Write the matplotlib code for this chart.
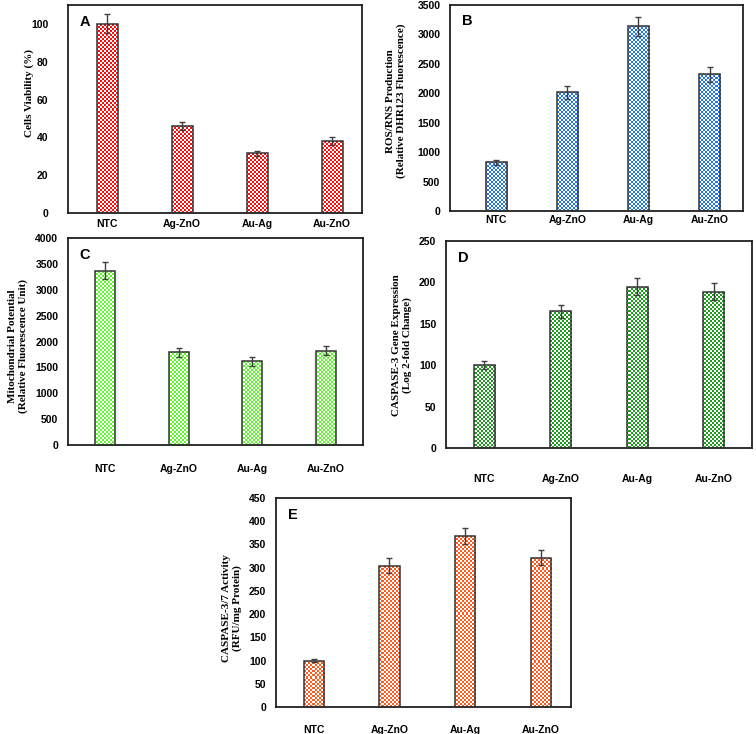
import numpy as np
import matplotlib
matplotlib.use("Agg")
import matplotlib.pyplot as plt
from matplotlib.colors import to_rgb

categories = ["NTC", "Ag-ZnO", "Au-Ag", "Au-ZnO"]

vals_A = [100, 46, 31.5, 38]
err_A = [5, 2, 1.5, 2]
vals_B = [830, 2020, 3140, 2320]
err_B = [40, 110, 160, 120]
vals_C = [3370, 1790, 1620, 1820]
err_C = [170, 90, 90, 90]
vals_D = [100, 165, 195, 189]
err_D = [5, 8, 10, 10]
vals_E = [100, 304, 368, 321]
err_E = [4, 16, 18, 16]

W, H = 756, 734
fig = plt.figure(figsize=(W / 100, H / 100), dpi=100)

serif = "Liberation Serif"
sans = "Liberation Sans"


def px_axes(l, t, r, b):
    return fig.add_axes([l / W, 1 - b / H, (r - l) / W, (b - t) / H])


def checker_img(color, nx, ny):
    c = np.array(to_rgb(color))
    img = np.ones((ny, nx, 3))
    ii, jj = np.indices((ny, nx))
    mask = (ii + jj) % 2 == 0
    img[mask] = c
    return img


def panel(box, vals, errs, ylim, ystep, color, letter, ylabel, ylabel_pos,
          xlim, width, xpad, ypad):
    l, t, r, b = box
    ax = px_axes(l, t, r, b)
    x = np.arange(len(categories))
    bars = ax.bar(x, vals, width=width, facecolor="none", edgecolor="#333333",
                  linewidth=1.1, zorder=3)
    nx = int(round((r - l) / 2))
    ny = int(round((b - t) / 2))
    img = checker_img(color, nx, ny)
    for bar in bars:
        im = ax.imshow(img, extent=[0, 1, 0, 1], transform=ax.transAxes,
                       aspect="auto", interpolation="nearest", zorder=2)
        im.set_clip_path(bar)
    ax.errorbar(x, vals, yerr=errs, fmt="none", ecolor="#404040",
                elinewidth=1.0, capsize=2.5, capthick=1.0, zorder=4)
    ax.set_xlim(*xlim)
    ax.set_ylim(*ylim)
    ax.set_yticks(np.arange(ylim[0], ylim[1] + ystep / 2, ystep))
    ax.set_xticks(x)
    ax.set_xticklabels(categories)
    ax.tick_params(axis="both", length=0, labelsize=7.5)
    ax.tick_params(axis="x", pad=xpad)
    ax.tick_params(axis="y", pad=ypad)
    for lab in ax.get_xticklabels() + ax.get_yticklabels():
        lab.set_fontfamily(sans)
        lab.set_fontweight("bold")
    for s in ax.spines.values():
        s.set_linewidth(1.3)
        s.set_color("#202020")
    ax.set_aspect("auto")
    ax.text(0.04, 0.92, letter, transform=ax.transAxes, fontsize=10.5,
            fontweight="bold", fontfamily=sans, va="center", ha="left", zorder=5)
    fig.text(ylabel_pos[0] / W, 1 - ylabel_pos[1] / H, ylabel, rotation=90,
             ha="center", va="center", fontfamily=serif, fontweight="bold",
             fontsize=8, linespacing=1.15)
    return ax


panel((68, 5, 362, 213), vals_A, err_A, (0, 110), 20, "#ff0a0a", "A",
      "Cells Viability (%)", (29, 93), (-0.52, 3.4), 0.28, 4, 14)
panel((450, 5, 743, 211), vals_B, err_B, (0, 3500), 500, "#2176f0", "B",
      "ROS/RNS Production\n(Relative DHR123 Fluorescence)", (396, 101),
      (-0.65, 3.47), 0.3, 3, 7)
panel((68, 238, 363, 445), vals_C, err_C, (0, 4000), 500, "#5cf52a", "C",
      "Mitochondrial Potential\n(Relative Fluorescence Unit)", (18, 346),
      (-0.5, 3.5), 0.27, 14, 7)
panel((446, 241, 752, 448), vals_D, err_D, (0, 250), 50, "#1e9a1e", "D",
      "CASPASE-3 Gene Expression\n(Log 2-fold Change)", (402, 345),
      (-0.5, 3.5), 0.28, 19, 7)
panel((276, 498, 571, 707), vals_E, err_E, (0, 450), 50, "#ff5a1e", "E",
      "CASPASE-3/7 Activity\n(RFU/mg Protein)", (232, 608),
      (-0.5, 3.4), 0.27, 13, 7)

fig.savefig("out.png", dpi=100)
